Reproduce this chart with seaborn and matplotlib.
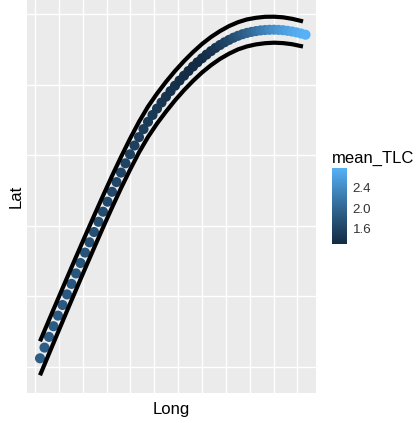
import numpy as np
import pandas as pd
import matplotlib
matplotlib.use("Agg")
import matplotlib.pyplot as plt
from matplotlib.colors import ListedColormap, Normalize
import seaborn as sns

# ---- data (Long/Lat in the plot's own units) ----
long_vals = [40, 44.5, 49, 53.5, 58, 62.5, 67, 71.5, 76, 80.5,
             85, 89.5, 94, 98.5, 103, 107.5, 112, 116.5, 121, 125.5,
             130, 134.5, 139, 143.5, 148, 152.5, 157, 161.5, 166, 170.5,
             175, 179.5, 184, 188.5, 193, 197.5, 202, 206.5, 211, 215.5,
             220, 224.5, 229, 233.5, 238, 242.5, 247, 251.5, 256, 260.5,
             265, 269.5, 274, 278.5, 283, 287.5, 292, 296.5, 301, 305.5]
lat_vals = [64.7, 75.4, 86.1, 96.8, 107.4, 118.0, 128.6, 139.1, 149.6, 160.0,
            170.4, 180.7, 191.0, 201.2, 211.3, 221.3, 231.2, 240.9, 250.4, 259.7,
            268.7, 277.5, 285.9, 293.9, 301.2, 308.0, 314.4, 320.5, 326.3, 331.9,
            337.3, 342.4, 347.3, 352.0, 356.5, 360.7, 364.7, 368.4, 371.9, 375.1,
            378.0, 380.7, 383.1, 385.3, 387.2, 388.8, 390.1, 391.1, 391.9, 392.6,
            393.0, 393.2, 393.3, 393.1, 392.8, 392.2, 391.5, 390.6, 389.5, 388.3]
mean_tlc = [1.90, 1.89, 1.88, 1.87, 1.86, 1.85, 1.84, 1.83, 1.82, 1.80,
            1.78, 1.76, 1.74, 1.72, 1.70, 1.68, 1.66, 1.64, 1.62, 1.60,
            1.58, 1.56, 1.54, 1.52, 1.50, 1.48, 1.46, 1.44, 1.42, 1.40,
            1.38, 1.36, 1.34, 1.32, 1.30, 1.31, 1.33, 1.36, 1.40, 1.45,
            1.51, 1.58, 1.65, 1.72, 1.80, 1.88, 1.96, 2.04, 2.12, 2.20,
            2.28, 2.36, 2.44, 2.51, 2.57, 2.62, 2.67, 2.71, 2.75, 2.78]

band_long = [40, 49, 58, 67, 76, 85, 94, 103, 112, 121,
             130, 139, 148, 157, 166, 175, 184, 193, 202, 211,
             220, 229, 238, 247, 256, 265, 274, 283, 292, 301, 303]
upper_lat = [81.7, 103.0, 124.1, 145.1, 166.0, 186.7, 207.1, 227.2, 247.0, 266.0,
             284.2, 301.2, 316.4, 329.4, 341.2, 352.0, 361.9, 370.9, 379.0, 386.0,
             391.9, 396.9, 400.8, 403.6, 405.2, 406.2, 406.3, 405.7, 404.2, 402.1, 401.5]
lower_lat = [47.7, 69.3, 90.7, 112.1, 133.2, 154.2, 174.9, 195.4, 215.4, 234.8,
             253.2, 270.6, 286.0, 299.4, 311.4, 322.6, 332.8, 342.1, 350.5, 357.8,
             364.1, 369.3, 373.6, 376.6, 378.6, 379.8, 380.3, 379.9, 378.8, 376.9, 376.5]

legend_ticks = [1.6, 2.0, 2.4]

df = pd.DataFrame({"Long": long_vals, "Lat": lat_vals, "mean_TLC": mean_tlc})
upper = pd.DataFrame({"Long": band_long, "Lat": upper_lat})
lower = pd.DataFrame({"Long": band_long, "Lat": lower_lat})

# ---- ggplot-like gradient (#132B43 -> #56B1F7, Lab interpolation) ----
def srgb_to_lab(rgb):
    rgb = np.asarray(rgb, float)
    lin = np.where(rgb <= 0.04045, rgb / 12.92, ((rgb + 0.055) / 1.055) ** 2.4)
    M = np.array([[0.4124, 0.3576, 0.1805],
                  [0.2126, 0.7152, 0.0722],
                  [0.0193, 0.1192, 0.9505]])
    xyz = lin @ M.T / np.array([0.95047, 1.0, 1.08883])
    f = np.where(xyz > 0.008856, np.cbrt(xyz), 7.787 * xyz + 16 / 116)
    return np.stack([116 * f[..., 1] - 16, 500 * (f[..., 0] - f[..., 1]),
                     200 * (f[..., 1] - f[..., 2])], -1)

def lab_to_srgb(lab):
    L, a, b = lab[..., 0], lab[..., 1], lab[..., 2]
    fy = (L + 16) / 116
    fx = fy + a / 500
    fz = fy - b / 200
    f = np.stack([fx, fy, fz], -1)
    xyz = np.where(f ** 3 > 0.008856, f ** 3, (f - 16 / 116) / 7.787)
    xyz = xyz * np.array([0.95047, 1.0, 1.08883])
    Minv = np.array([[3.2406, -1.5372, -0.4986],
                     [-0.9689, 1.8758, 0.0415],
                     [0.0557, -0.2040, 1.0570]])
    lin = xyz @ Minv.T
    rgb = np.where(lin <= 0.0031308, 12.92 * lin,
                   1.055 * np.clip(lin, 0, None) ** (1 / 2.4) - 0.055)
    return np.clip(rgb, 0, 1)

lo = np.array([0x13, 0x2B, 0x43]) / 255
hi = np.array([0x56, 0xB1, 0xF7]) / 255
t = np.linspace(0, 1, 256)[:, None]
lab = srgb_to_lab(lo) * (1 - t) + srgb_to_lab(hi) * t
cmap = ListedColormap(lab_to_srgb(lab))
vmin, vmax = min(mean_tlc), max(mean_tlc)
norm = Normalize(vmin=vmin, vmax=vmax)

# ---- figure ----
sns.set_theme(style="darkgrid")
plt.rcParams["font.family"] = ["Liberation Sans", "DejaVu Sans"]

W, H = 416, 423
fig = plt.figure(figsize=(W / 100, H / 100), dpi=100)
fig.patch.set_facecolor("white")
ax = fig.add_axes([27 / W, (H - 393) / H, 289 / W, 393 / H])
ax.set_facecolor("#EBEBEB")

sns.scatterplot(data=df, x="Long", y="Lat", hue="mean_TLC", palette=cmap,
                hue_norm=norm, s=53, linewidth=0, legend=False, ax=ax, zorder=3)
sns.lineplot(data=upper, x="Long", y="Lat", sort=False, estimator=None,
             color="black", linewidth=3.0, ax=ax, zorder=4)
sns.lineplot(data=lower, x="Long", y="Lat", sort=False, estimator=None,
             color="black", linewidth=3.0, ax=ax, zorder=4)
for l in ax.lines:
    l.set_solid_capstyle("butt")
    l.set_solid_joinstyle("round")

ax.set_xlim(27, 316)
ax.set_ylim(30, 423)
ax.set_xticks([35 + 23.85 * k for k in range(12)])
ax.set_yticks([56 + 70.6 * k for k in range(6)])
ax.grid(True, color="white", linewidth=1.0)
ax.tick_params(length=0, labelbottom=False, labelleft=False)
for s in ax.spines.values():
    s.set_visible(False)

ax.set_xlabel("Long", fontsize=12, color="black")
ax.set_ylabel("Lat", fontsize=12, color="black")
ax.xaxis.set_label_coords(0.5, (393 - 409) / 393)
ax.xaxis.label.set_va("center")
ax.yaxis.set_label_coords((16 - 27) / 289, 0.5)
ax.yaxis.label.set_va("center")

# ---- colourbar legend ----
cax = fig.add_axes([332 / W, (H - 244) / H, 15 / W, 76 / H])
sm = plt.cm.ScalarMappable(norm=norm, cmap=cmap)
cb = fig.colorbar(sm, cax=cax)
cb.outline.set_visible(False)
cb.set_ticks(legend_ticks)
cb.set_ticklabels([f"{v:.1f}" for v in legend_ticks])
cax.tick_params(axis="y", which="both", left=True, right=True, direction="in",
                length=3, width=0.8, color="white", labelleft=False,
                labelright=True, labelsize=9.6, labelcolor="#333333", pad=4)
cax.grid(False)
cax.set_title("mean_TLC", loc="left", fontsize=12, pad=3.5, color="black")

fig.savefig("out.png", dpi=100)
